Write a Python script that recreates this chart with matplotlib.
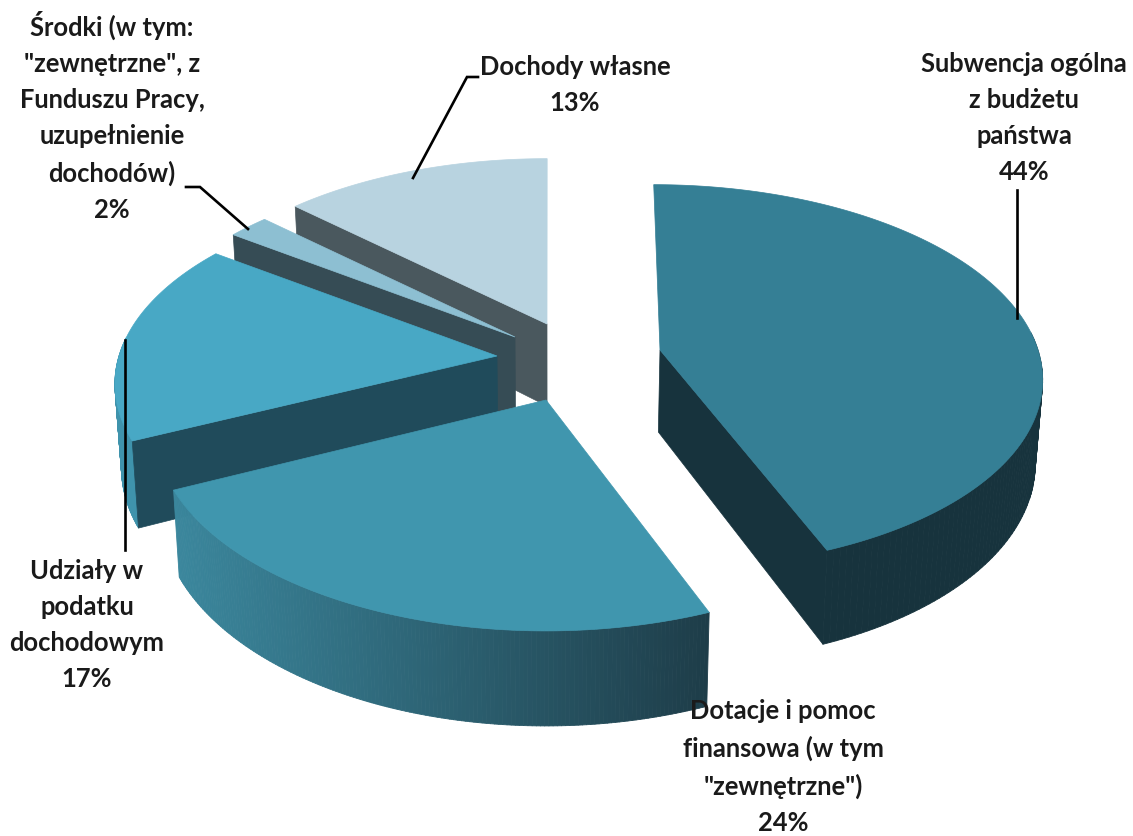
import numpy as np
import matplotlib
matplotlib.use("Agg")
import matplotlib.pyplot as plt
from matplotlib.collections import PolyCollection
from matplotlib.colors import to_rgb

# ---- data ----
categories = ["Subwencja ogólna\nz budżetu\npaństwa",
              "Dotacje i pomoc\nfinansowa (w tym\n\"zewnętrzne\")",
              "Udziały w\npodatku\ndochodowym",
              "Środki (w tym:\n\"zewnętrzne\", z\nFunduszu Pracy,\nuzupełnienie\ndochodów)",
              "Dochody własne"]
shares = [44, 24, 17, 2, 13]

# ---- styles ----
top_colors = ["#357f95", "#4096ae", "#48a8c5", "#8dbfd2", "#b8d3e0"]
cut_colors = ["#17333d", None, "#204b5b", "#364c55", "#4a585e"]
wall_left = ["#17333d", "#3b879d", "#3f93ac", "#364c55", "#4a585e"]
wall_right = ["#17333d", "#1e3d49", "#3f93ac", "#364c55", "#4a585e"]
apex_px = [(660, 350), (546, 400), (497, 356), (515, 337), (547, 324)]
x_scale = [1.0, 1.025, 1.0, 1.0, 1.0]
y_scale = [1.0, 1.06, 1.0, 1.0, 1.0]
cut_on_end = [True, False, False, False, False]
draw_order = [4, 3, 2, 0, 1]
label_pos = [(1024, 118), (783, 767), (87, 625), (112, 116), (575, 85)]
R, S, P, DEPTH, VX = 378.0, 188.0, 0.137, 82.0, 550.0

fig = plt.figure(figsize=(11.33, 8.36), dpi=100, facecolor="white")
ax = fig.add_axes([0, 0, 1, 1])
ax.set_xlim(0, 1133)
ax.set_ylim(836, 0)
ax.axis("off")


def project(i, t):
    apex = apex_px[i]
    X, Y = np.sin(t), np.cos(t)
    w = 1 + P * Y
    k = -0.065 * (apex[0] - VX)
    return apex[0] + x_scale[i] * (R * X + k * Y) / w, apex[1] - y_scale[i] * S * Y / w


def lower(x, y, t):
    w = 1 + P * np.cos(t)
    return x - 0.015 * (x - VX), y + DEPTH / w


def blend(a, b, f):
    a, b = np.array(to_rgb(a)), np.array(to_rgb(b))
    return tuple(a + (b - a) * f)


edges = np.radians(np.concatenate([[0], np.cumsum(shares) * 3.6]))
for i in draw_order:
    a = apex_px[i]
    t = np.linspace(edges[i], edges[i + 1], 160)
    x, y = project(i, t)
    xb, yb = lower(x, y, t)
    # outer wall, only its part turned to the viewer
    front = np.cos(t) < 0.1
    polys, cols = [], []
    idx = np.where(front)[0]
    for j in idx[:-1]:
        polys.append([(x[j], y[j]), (x[j + 1], y[j + 1]), (xb[j + 1], yb[j + 1]), (xb[j], yb[j])])
        f = (x[j] - x.min()) / max(x.max() - x.min(), 1)
        cols.append(blend(wall_left[i], wall_right[i], f))
    if polys:
        ax.add_collection(PolyCollection(polys, facecolors=cols, edgecolors=cols, linewidths=0.6, zorder=1))
    # cut face
    if cut_colors[i]:
        e = t[-1] if cut_on_end[i] else t[0]
        ex, ey = project(i, e)
        exb, eyb = lower(ex, ey, e)
        axb, ayb = lower(a[0], a[1], np.pi / 2)
        ax.fill([a[0], ex, exb, axb], [a[1], ey, eyb, ayb], color=cut_colors[i], lw=0.5, zorder=1)
    ax.fill(np.r_[a[0], x], np.r_[a[1], y], color=top_colors[i], lw=0.5, zorder=1)

# ---- leader lines ----
leaders = [([1017, 1017], [190, 318]),
           ([478, 467, 413], [77, 77, 178]),
           ([186, 200, 248], [187, 187, 229]),
           ([125, 125], [340, 550])]
for lx, ly in leaders:
    ax.plot(lx, ly, color="black", lw=1.9, zorder=2, solid_joinstyle="miter")

# ---- labels ----
for name, share, (lx, ly) in zip(categories, shares, label_pos):
    ax.text(lx, ly, f"{name}\n{share}%", ha="center", va="center", fontsize=18.4,
            family="Lato", fontweight="bold", color="#1a1a1a",
            linespacing=1.6, zorder=3)

fig.savefig("out.png", dpi=100, facecolor="white")
